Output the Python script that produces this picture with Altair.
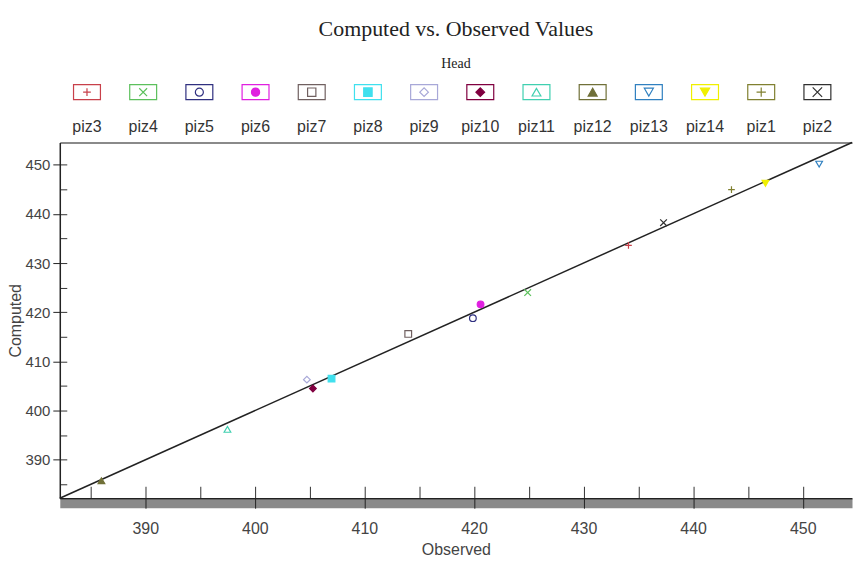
import altair as alt
import pandas as pd

# ---- data ----
series = ["piz3", "piz4", "piz5", "piz6", "piz7", "piz8", "piz9",
          "piz10", "piz11", "piz12", "piz13", "piz14", "piz1", "piz2"]
observed = [434.1, 424.9, 419.9, 420.6, 414.0, 407.0, 404.75,
            405.3, 397.5, 386.0, 451.5, 446.6, 443.5, 437.3]
computed = [433.6, 424.0, 418.8, 421.6, 415.6, 406.5, 406.3,
            404.5, 396.2, 385.75, 450.1, 446.2, 444.9, 438.2]
line_ends = [382.2, 454.5]
major_ticks = [390, 400, 410, 420, 430, 440, 450]
minor_ticks = [385, 390, 395, 400, 405, 410, 415, 420, 425, 430, 435, 440, 445, 450]

# ---- styles ----
colors = ["#c8404a", "#5cc05c", "#303080", "#e020e0", "#706060", "#40e0ee", "#a8a8d8",
          "#800040", "#40d0b0", "#707038", "#3080c0", "#f0f000", "#808030", "#303030"]
fills = ["white", "white", "white", "#e020e0", "white", "#40e0ee", "white",
         "#800040", "white", "#707038", "white", "#f0f000", "white", "white"]
PLUS = "M-1,0L1,0M0,-1L0,1"
XMARK = "M-1,-1L1,1M-1,1L1,-1"
shapes = [PLUS, XMARK, "circle", "circle", "square", "square", "diamond",
          "diamond", "triangle-up", "triangle-up", "triangle-down", "triangle-down", PLUS, XMARK]
legend_marker_sizes = [60, 90, 40, 50, 70, 55, 60, 60, 70, 70, 80, 80, 180, 200]
BOX = "M-1.8,-1L1.8,-1L1.8,1L-1.8,1Z"

SANS = "Liberation Sans, Arial, sans-serif"
SERIF = "Liberation Serif, Times New Roman, serif"

df = pd.DataFrame({"series": series, "Observed": observed, "Computed": computed})
line_df = pd.DataFrame({"Observed": line_ends, "Computed": line_ends})
leg_df = pd.DataFrame({"series": series})

xscale = alt.Scale(domain=line_ends, nice=False, zero=False)
yscale = alt.Scale(domain=line_ends, nice=False, zero=False)

stroke_enc = alt.Stroke("series:N", scale=alt.Scale(domain=series, range=colors), legend=None)
fill_enc = alt.Fill("series:N", scale=alt.Scale(domain=series, range=fills), legend=None)
shape_enc = alt.Shape("series:N", scale=alt.Scale(domain=series, range=shapes), legend=None)

# 1:1 line, carries the gray band under the x axis
line_layer = alt.Chart(line_df).mark_line(color="#222", strokeWidth=1.5).encode(
    x=alt.X("Observed:Q", scale=xscale,
            axis=alt.Axis(orient="bottom", offset=5, domainColor="#8a8a8a", domainWidth=9,
                          ticks=False, labels=False, title=None, grid=False)),
    y=alt.Y("Computed:Q", scale=yscale, axis=None),
)

# top gray border
top_layer = alt.Chart(line_df).mark_line(opacity=0).encode(
    x=alt.X("Observed:Q", scale=xscale,
            axis=alt.Axis(orient="top", domainColor="#8a8a8a", domainWidth=2,
                          ticks=False, labels=False, title=None, grid=False)),
    y=alt.Y("Computed:Q", scale=yscale, axis=None),
)

# inward ticks
inner_layer = alt.Chart(df).mark_point(opacity=0).encode(
    x=alt.X("Observed:Q", scale=xscale,
            axis=alt.Axis(orient="bottom", offset=-12, values=minor_ticks, tickSize=12,
                          tickColor="#333", domain=False, labels=False, title=None, grid=False)),
    y=alt.Y("Computed:Q", scale=yscale,
            axis=alt.Axis(orient="left", offset=-7, values=minor_ticks, tickSize=7,
                          tickColor="#333", domain=False, labels=False, title=None, grid=False)),
)

points = alt.Chart(df).mark_point(size=45, strokeWidth=1.2, opacity=1).encode(
    x=alt.X("Observed:Q", scale=xscale,
            axis=alt.Axis(orient="bottom", values=major_ticks, tickSize=10, tickColor="#222",
                          domainColor="#222", domainWidth=1.5, labelFont=SANS, labelFontSize=16,
                          labelColor="#444", labelPadding=12, title="Observed", titleFont=SANS,
                          titleFontSize=16, titleFontWeight="normal", titleColor="#444",
                          titlePadding=5, grid=False)),
    y=alt.Y("Computed:Q", scale=yscale,
            axis=alt.Axis(orient="left", values=major_ticks, tickSize=7, tickColor="#222",
                          domainColor="#222", domainWidth=1.5, labelFont=SANS, labelFontSize=15,
                          labelColor="#444", labelPadding=3, title="Computed", titleFont=SANS,
                          titleFontSize=16, titleFontWeight="normal", titleColor="#444",
                          titlePadding=1, grid=False)),
    stroke=stroke_enc,
    fill=fill_enc,
    shape=shape_enc,
)

main = alt.layer(line_layer, top_layer, inner_layer, points).resolve_axis(
    x="independent", y="independent"
).properties(width=795, height=357)

# custom legend
lx = alt.X("series:N", sort=series,
           scale=alt.Scale(type="point", padding=0.55, align=0.44), axis=None)
boxes = alt.Chart(leg_df).mark_point(shape=BOX, size=225, fill="white", fillOpacity=1,
                                     strokeWidth=1.2, opacity=1).encode(x=lx, stroke=stroke_enc)
markers = alt.Chart(leg_df).mark_point(strokeWidth=1.2, opacity=1).encode(
    x=lx, stroke=stroke_enc, fill=fill_enc, shape=shape_enc,
    size=alt.Size("series:N", scale=alt.Scale(domain=series, range=legend_marker_sizes),
                  legend=None))
labels = alt.Chart(leg_df).mark_text(dy=35, font=SANS, fontSize=16, color="#333").encode(
    x=lx, text="series:N")

legend = alt.layer(boxes, markers, labels).properties(
    width=795, height=15,
    title=alt.TitleParams(
        text="Computed vs. Observed Values", subtitle="Head",
        font=SERIF, fontSize=22, fontWeight="normal", color="#222",
        subtitleFont=SERIF, subtitleFontSize=14, subtitleColor="#222",
        subtitlePadding=16, anchor="middle", offset=10),
)

chart = alt.vconcat(legend, main, spacing=4).properties(
    padding={"left": 7, "top": 17, "right": 0, "bottom": 0}
).configure_view(stroke=None)

chart.save("out.html", embed_options={"renderer": "svg", "actions": False})
